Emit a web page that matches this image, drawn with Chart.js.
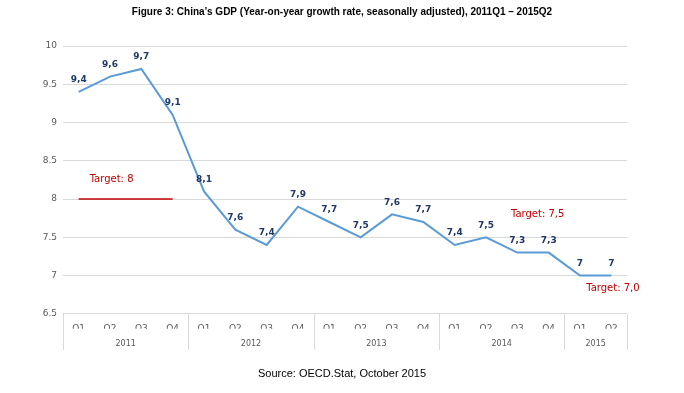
<!DOCTYPE html>
<html><head><meta charset="utf-8">
<script src="https://cdn.jsdelivr.net/npm/chart.js@4"></script>
<style>html,body{margin:0;padding:0;background:#fff}</style>
</head><body>
<canvas id="c" width="684" height="393"></canvas>
<script>
const quarters = ['Q1','Q2','Q3','Q4','Q1','Q2','Q3','Q4','Q1','Q2','Q3','Q4','Q1','Q2','Q3','Q4','Q1','Q2'];
const years = ['2011','2012','2013','2014','2015'];
const quartersPerYear = [4,4,4,4,2];
const gdpGrowth = [9.4,9.6,9.7,9.1,8.1,7.6,7.4,7.9,7.7,7.5,7.8,7.7,7.4,7.5,7.3,7.3,7.0,7.0];
const pointLabels = ['9,4','9,6','9,7','9,1','8,1','7,6','7,4','7,9','7,7','7,5','7,6','7,7','7,4','7,5','7,3','7,3','7','7'];
const target2011 = [8,8,8,8,null,null,null,null,null,null,null,null,null,null,null,null,null,null];
const targetNotes = ['Target: 8','Target: 7,5','Target: 7,0'];
const targetNoteIndex = [1.05,14.65,17.05];
const targetNoteValue = [8.25,7.8,6.83];
const yMin = 6.5, yMax = 10, yStep = 0.5;
const titleText = 'Figure 3: China\u2019s GDP (Year-on-year growth rate, seasonally adjusted), 2011Q1 \u2013 2015Q2';
const sourceText = 'Source: OECD.Stat, October 2015';

const yearCenters = [];
const yearBounds = [-0.5];
{ let s = 0; quartersPerYear.forEach(n => { yearCenters.push(s + (n - 1) / 2); s += n; yearBounds.push(s - 0.5); }); }

const extras = {
  id: 'extras',
  afterDatasetsDraw(chart) {
    const ctx = chart.ctx, xs = chart.scales.x, ys = chart.scales.y, x2 = chart.scales.x2;
    ctx.save();
    const meta = chart.getDatasetMeta(0);
    ctx.font = 'bold 9px "DejaVu Sans"';
    ctx.fillStyle = '#1f3864';
    ctx.textAlign = 'center';
    ctx.textBaseline = 'middle';
    meta.data.forEach((p, i) => ctx.fillText(pointLabels[i], p.x, p.y - 12));
    ctx.font = '10px "DejaVu Sans"';
    ctx.fillStyle = '#c00000';
    targetNotes.forEach((t, i) => ctx.fillText(t, xs.getPixelForValue(targetNoteIndex[i]), ys.getPixelForValue(targetNoteValue[i])));
    ctx.strokeStyle = '#d9d9d9';
    ctx.lineWidth = 1;
    yearBounds.forEach(b => {
      const px = Math.round(xs.getPixelForValue(b)) + 0.5;
      ctx.beginPath();
      ctx.moveTo(px, chart.chartArea.bottom);
      ctx.lineTo(px, x2.bottom - 2);
      ctx.stroke();
    });
    ctx.restore();
  }
};

new Chart(document.getElementById('c'), {
  type: 'line',
  data: {
    labels: quarters,
    datasets: [
      { data: gdpGrowth, borderColor: '#5b9bd5', borderWidth: 2, pointRadius: 0, tension: 0, fill: false },
      { data: target2011, borderColor: '#c00000', borderWidth: 1.5, pointRadius: 0, tension: 0, fill: false, spanGaps: false }
    ]
  },
  options: {
    responsive: false,
    devicePixelRatio: 1,
    animation: false,
    layout: { padding: 0 },
    plugins: {
      legend: { display: false },
      tooltip: { enabled: false },
      title: { display: true, text: titleText, color: '#000', font: { family: '"Liberation Sans"', size: 10, weight: 'bold' }, padding: { top: 6, bottom: 28 } },
      subtitle: { display: true, position: 'bottom', text: sourceText, color: '#000', font: { family: '"Liberation Sans"', size: 11 }, padding: { top: 16, bottom: 12 } }
    },
    scales: {
      x: {
        type: 'category', offset: true,
        grid: { display: false }, border: { display: false },
        ticks: { font: { family: '"DejaVu Sans"', size: 9 }, color: '#595959', maxRotation: 0, autoSkip: false, padding: 1 },
        afterFit(s) { s.height = 15; }
      },
      x2: {
        type: 'linear', position: 'bottom', min: -0.5, max: 17.5,
        grid: { display: false }, border: { display: false },
        afterBuildTicks(s) { s.ticks = yearCenters.map(v => ({ value: v })); },
        ticks: { font: { family: '"DejaVu Sans"', size: 8 }, color: '#595959', maxRotation: 0, autoSkip: false, padding: 2,
          callback(v) { const i = yearCenters.indexOf(v); return i >= 0 ? years[i] : ''; } },
        afterFit(s) { s.height = 23; }
      },
      y: {
        min: yMin, max: yMax,
        ticks: { stepSize: yStep, font: { family: '"DejaVu Sans"', size: 9 }, color: '#595959', padding: 6,
          callback(v) { return String(Number(v)); } },
        grid: { color: '#d9d9d9', drawTicks: false },
        border: { display: false },
        afterFit(s) { s.width = 63; }
      },
      yRight: {
        type: 'linear', position: 'right', min: yMin, max: yMax, display: true,
        grid: { display: false }, border: { display: false }, ticks: { display: false },
        afterFit(s) { s.width = 57; }
      }
    }
  },
  plugins: [extras]
});
</script>
</body></html>
